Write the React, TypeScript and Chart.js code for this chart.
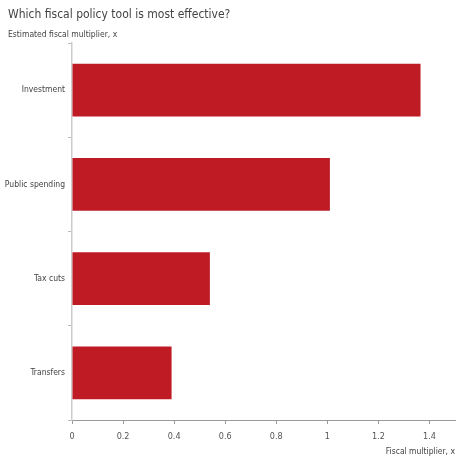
import React, { useEffect, useRef } from "react";
import { Chart, registerables } from "chart.js";

Chart.register(...registerables);

const categories = ["Investment", "Public spending", "Tax cuts", "Transfers"];
const multipliers = [1.365, 1.01, 0.54, 0.39];
const xTicks = [0, 0.2, 0.4, 0.6, 0.8, 1, 1.2, 1.4];

const titleText = "Which fiscal policy tool is most effective?";
const subtitleText = "Estimated fiscal multiplier, x";
const xTitleText = "Fiscal multiplier, x";

const FONT = "'DejaVu Sans Condensed', 'Liberation Sans', sans-serif";

const headerPlugin = {
  id: "header",
  afterDraw(chart: any) {
    const ctx = chart.ctx;
    ctx.save();
    ctx.fillStyle = "#444";
    ctx.textAlign = "left";
    ctx.textBaseline = "middle";
    ctx.font = `12px ${FONT}`;
    ctx.fillText(titleText, 8, 15);
    ctx.font = `8.5px ${FONT}`;
    ctx.fillText(subtitleText, 8, 35);
    ctx.restore();
  },
};

export default function App() {
  const ref = useRef<HTMLCanvasElement | null>(null);
  useEffect(() => {
    if (!ref.current) return;
    const chart = new Chart(ref.current, {
      type: "bar",
      data: {
        labels: categories,
        datasets: [
          {
            data: multipliers,
            backgroundColor: "#BE1B24",
            borderWidth: 0,
            categoryPercentage: 1,
            barPercentage: 0.56,
          },
        ],
      },
      plugins: [headerPlugin],
      options: {
        indexAxis: "y",
        animation: false,
        responsive: false,
        layout: { padding: { left: 0, right: 6, top: 43, bottom: 0 } },
        plugins: {
          legend: { display: false },
          tooltip: { enabled: false },
          title: { display: false },
          subtitle: { display: false },
        },
        scales: {
          x: {
            min: 0,
            max: 1.5,
            afterBuildTicks: (axis: any) => {
              axis.ticks = xTicks.map((v) => ({ value: v }));
            },
            ticks: {
              color: "#555",
              font: { family: FONT, size: 9 },
              padding: 7,
              callback: (v: any) => String(Math.round(Number(v) * 10) / 10),
            },
            grid: {
              drawOnChartArea: false,
              drawTicks: true,
              tickLength: 4,
              color: "#999",
            },
            border: { display: true, color: "#999" },
            title: {
              display: true,
              text: xTitleText,
              align: "end",
              color: "#444",
              font: { family: FONT, size: 8.5 },
              padding: { top: -2, bottom: 0 },
            },
          },
          y: {
            afterFit: (axis: any) => {
              axis.width = 72;
            },
            ticks: {
              color: "#444",
              font: { family: FONT, size: 8.5 },
              padding: 3,
            },
            grid: {
              drawOnChartArea: false,
              drawTicks: true,
              tickLength: 4,
              offset: true,
              color: "#bbb",
            },
            border: { display: true, color: "#ccc", width: 1.5 },
          },
        },
      },
    });
    return () => chart.destroy();
  }, []);
  return (
    <div style={{ position: "absolute", left: 0, top: 0, width: 461, height: 457, background: "#fff" }}>
      <canvas ref={ref} width={461} height={457} />
    </div>
  );
}
